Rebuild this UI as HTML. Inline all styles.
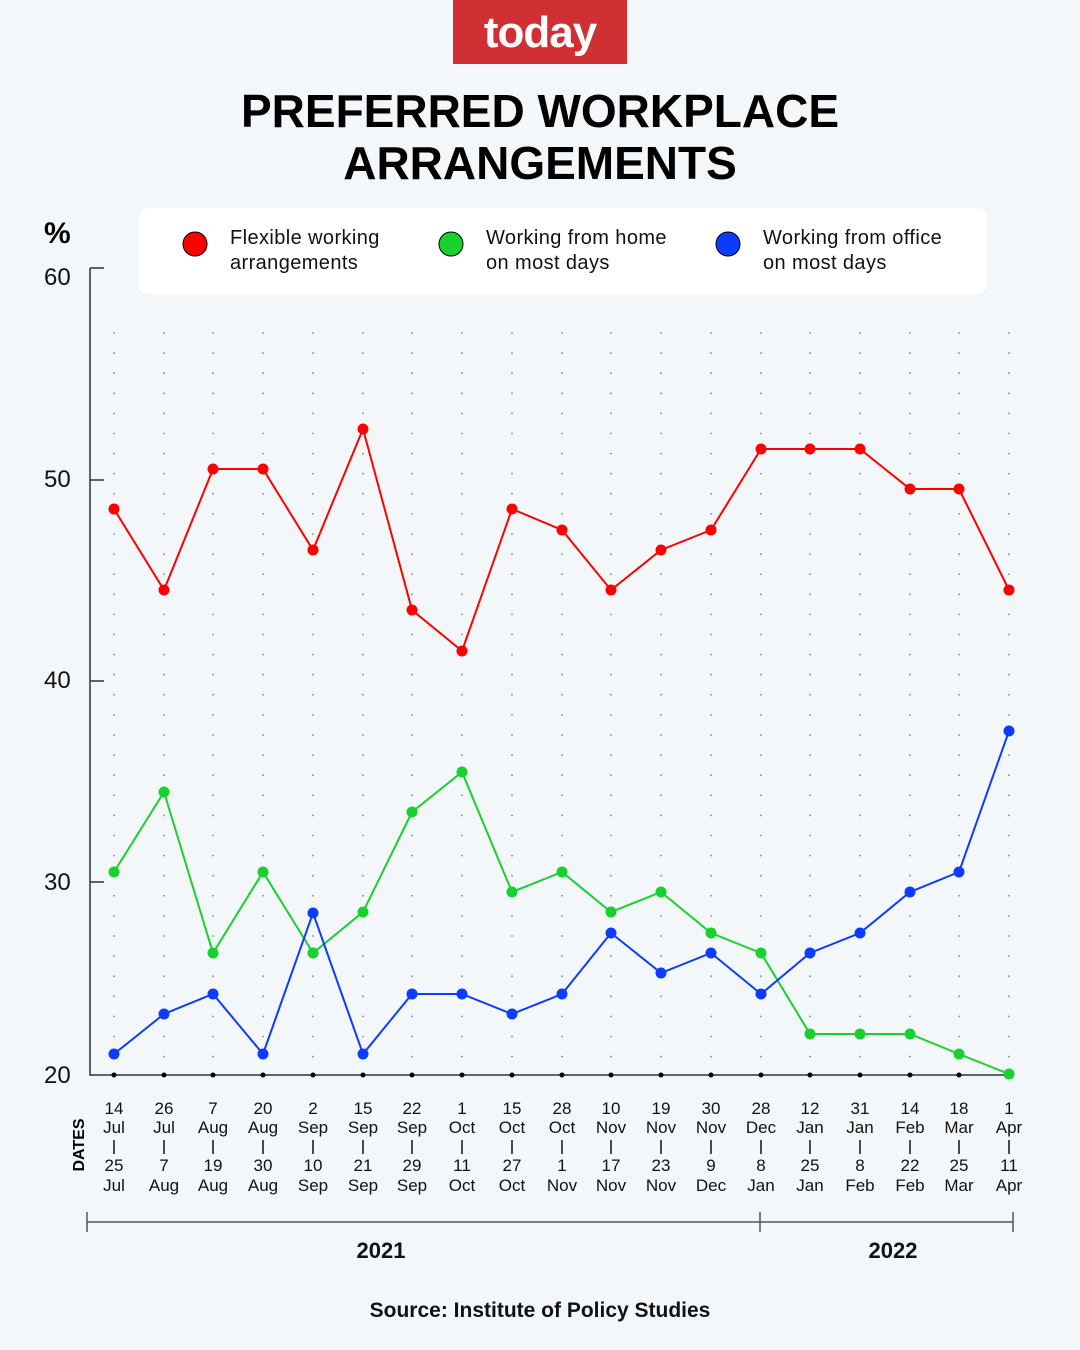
<!DOCTYPE html>
<html><head><meta charset="utf-8"><style>
body{margin:0;background:#f3f7fa;}
svg{display:block;font-family:"Liberation Sans",sans-serif;}
</style></head><body>
<svg id="s" width="1080" height="1350" viewBox="0 0 1080 1350" xmlns="http://www.w3.org/2000/svg">
<rect width="1080" height="1350" fill="#f3f7fa"/>
<rect x="453" y="0" width="174" height="64" fill="#d03033"/>
<text x="540" y="47" text-anchor="middle" font-size="44" font-weight="bold" fill="#fff" letter-spacing="-1">today</text>
<text x="540" y="127" text-anchor="middle" font-size="46" font-weight="bold" fill="#000">PREFERRED WORKPLACE</text>
<text x="540" y="179" text-anchor="middle" font-size="46" font-weight="bold" fill="#000">ARRANGEMENTS</text>
<rect x="139" y="208" width="848" height="86" rx="10" fill="#fff"/>
<circle cx="195" cy="244" r="12" fill="#f00" stroke="#000" stroke-width="1"/>
<g font-size="20" fill="#111" letter-spacing="0.4">
<text x="230" y="244">Flexible working</text>
<text x="230" y="269">arrangements</text>
<text x="486" y="244">Working from home</text>
<text x="486" y="269">on most days</text>
<text x="763" y="244">Working from office</text>
<text x="763" y="269">on most days</text>
</g>
<circle cx="451" cy="244" r="12" fill="#17d12c" stroke="#000" stroke-width="1"/>
<circle cx="728" cy="244" r="12" fill="#0b3cff" stroke="#000" stroke-width="1"/>
<text x="44" y="243" font-size="30" font-weight="bold" fill="#000">%</text>
<g font-size="24" fill="#111">
<text x="44" y="285">60</text><text x="44" y="487">50</text><text x="44" y="688">40</text><text x="44" y="890">30</text><text x="44" y="1083">20</text>
</g>
<path d="M90 268V1075H1012M90 268H104M90 480H104M90 681H104M90 882H104" stroke="#333" stroke-width="1.5" fill="none"/>
<g id="dots"></g>
<g id="lines"></g>
<g id="labels" font-size="17" fill="#111" text-anchor="middle"></g>
<text transform="translate(84,1145) rotate(-90)" text-anchor="middle" font-size="16" font-weight="bold" fill="#000">DATES</text>
<path d="M87 1222H1013M87 1212V1232M760 1212V1232M1013 1212V1232" stroke="#555" stroke-width="1.5"/>
<text x="381" y="1258" text-anchor="middle" font-size="22" font-weight="bold" fill="#111">2021</text>
<text x="893" y="1258" text-anchor="middle" font-size="22" font-weight="bold" fill="#111">2022</text>
<text x="540" y="1317" text-anchor="middle" font-size="21" font-weight="bold" fill="#111">Source: Institute of Policy Studies</text>
</svg>
<script>
var NS="http://www.w3.org/2000/svg";
function el(p,t,a,txt){var e=document.createElementNS(NS,t);for(var k in a)e.setAttribute(k,a[k]);if(txt!==undefined)e.textContent=txt;p.appendChild(e);return e;}
var xs=[114,164,213,263,313,363,412,462,512,562,611,661,711,761,810,860,910,959,1009];
var d=document.getElementById("dots"),l=document.getElementById("lines"),lb=document.getElementById("labels");
xs.forEach(function(x){for(var y=333;y<1070;y+=20.1)el(d,"circle",{cx:x,cy:y.toFixed(1),r:0.9,fill:"#888"});el(d,"circle",{cx:x,cy:1075,r:2.5,fill:"#000"});});
var series=[["#f00",[509,590,469,469,550,429,610,651,509,530,590,550,530,449,449,449,489,489,590]],
["#17d12c",[872,792,953,872,953,912,812,772,892,872,912,892,933,953,1034,1034,1034,1054,1074]],
["#0b3cff",[1054,1014,994,1054,913,1054,994,994,1014,994,933,973,953,994,953,933,892,872,731]]];
series.forEach(function(s){var pts=xs.map(function(x,i){return x+","+s[1][i]}).join(" ");
el(l,"polyline",{points:pts,fill:"none",stroke:s[0],"stroke-width":2});
xs.forEach(function(x,i){el(l,"circle",{cx:x,cy:s[1][i],r:5.5,fill:s[0]});});});
var lab=[["14","Jul","25","Jul"],["26","Jul","7","Aug"],["7","Aug","19","Aug"],["20","Aug","30","Aug"],["2","Sep","10","Sep"],["15","Sep","21","Sep"],["22","Sep","29","Sep"],["1","Oct","11","Oct"],["15","Oct","27","Oct"],["28","Oct","1","Nov"],["10","Nov","17","Nov"],["19","Nov","23","Nov"],["30","Nov","9","Dec"],["28","Dec","8","Jan"],["12","Jan","25","Jan"],["31","Jan","8","Feb"],["14","Feb","22","Feb"],["18","Mar","25","Mar"],["1","Apr","11","Apr"]];
xs.forEach(function(x,i){var a=lab[i];var ys=[1114,1133,1171,1191];
a.forEach(function(t,j){el(lb,"text",{x:x,y:ys[j]},t);});
el(lb,"line",{x1:x,x2:x,y1:1140,y2:1154,stroke:"#111","stroke-width":1.5});});
</script>
</body></html>
